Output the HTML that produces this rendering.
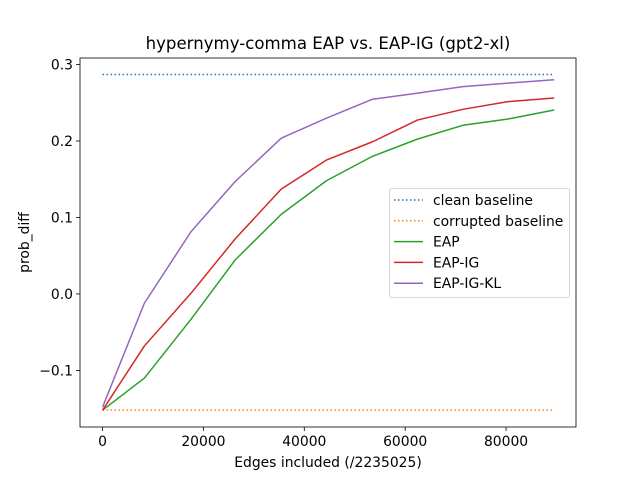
<!DOCTYPE html>
<html><head><meta charset="utf-8"><style>
body{margin:0;background:#fff}
svg{display:block;font-family:"DejaVu Sans","Liberation Sans",sans-serif}
</style></head><body>
<svg id="chart" width="640" height="480">
<rect width="640" height="480" fill="#fff"/>
<g id="plot"></g>
</svg>
<script>
const xValues=[0,8300,17550,26300,35420,44380,53530,62490,71440,80400,89550];
const eap=[-0.152,-0.110,-0.033,0.0445,0.104,0.148,0.180,0.2026,0.2205,0.2288,0.2405];
const eapIg=[-0.152,-0.068,0.001,0.072,0.137,0.175,0.199,0.2275,0.2414,0.2514,0.2562];
const eapIgKl=[-0.148,-0.012,0.0815,0.147,0.2036,0.2298,0.2546,0.2625,0.2711,0.2756,0.280];
const cleanBaseline=0.287;
const corruptedBaseline=-0.152;
const xTicks=[0,20000,40000,60000,80000];
const yTicks=[-0.1,0.0,0.1,0.2,0.3];
const yTickLabels=["\u22120.1","0.0","0.1","0.2","0.3"];

const L=80,R=576,T=58,B=427;
const xMin=-4470,xMax=93870,yMin=-0.174,yMax=0.3085;
const X=v=>L+(v-xMin)/(xMax-xMin)*(R-L);
const Y=v=>B-(v-yMin)/(yMax-yMin)*(B-T);
const NS="http://www.w3.org/2000/svg";
const g=document.getElementById('plot');
function mk(tag,attrs,parent){const e=document.createElementNS(NS,tag);for(const k in attrs)e.setAttribute(k,attrs[k]);(parent||g).appendChild(e);return e;}
function txt(s,attrs){const e=mk('text',attrs);e.textContent=s;return e;}

let t=txt("hypernymy-comma EAP vs. EAP-IG (gpt2-xl)",{x:(L+R)/2,y:49,'text-anchor':'middle','font-size':16.6,fill:'#000'});



xTicks.forEach(v=>{
  const l=mk('line',{x1:X(v),x2:X(v),y1:B,y2:B+4,stroke:'#000','stroke-width':0.8});
  
  
  const s=txt(String(v),{x:X(v),y:B+19,'text-anchor':'middle','font-size':13.9});
  
  
});
yTicks.forEach((v,i)=>{
  const l=mk('line',{x1:L-4,x2:L,y1:Y(v),y2:Y(v),stroke:'#000','stroke-width':0.8});
  
  
  const s=txt(yTickLabels[i],{x:L-7,y:Y(v)+5,'text-anchor':'end','font-size':13.9});
  
  
});
t=txt("Edges included (/2235025)",{x:(L+R)/2,y:467,'text-anchor':'middle','font-size':13.9});


t=txt("prob_diff",{x:0,y:0,'text-anchor':'middle','font-size':13.9,transform:`translate(29,${(T+B)/2}) rotate(-90)`});



function hline(v,color,name){
  const l=mk('line',{x1:X(xValues[0]),x2:X(xValues[xValues.length-1]),y1:Y(v),y2:Y(v),stroke:color,'stroke-width':1.5,'stroke-dasharray':'1.5,2.5'});
  
  
}
hline(cleanBaseline,'#1f77b4','clean-baseline-line');
hline(corruptedBaseline,'#ff7f0e','corrupted-baseline-line');
function series(vals,color,name){
  const p=mk('polyline',{points:vals.map((v,i)=>X(xValues[i])+','+Y(v)).join(' '),fill:'none',stroke:color,'stroke-width':1.5,'stroke-linejoin':'round'});
  
  
}
series(eap,'#2ca02c','eap-line');
series(eapIg,'#d62728','eap-ig-line');
series(eapIgKl,'#9467bd','eap-ig-kl-line');

const frame=mk('rect',{x:L,y:T,width:R-L,height:B-T,fill:'none',stroke:'#000','stroke-width':0.8});



const lg=mk('g',{});


mk('rect',{x:389.5,y:188.5,width:180,height:109,rx:2,fill:'#fff','fill-opacity':0.8,stroke:'#ccc','stroke-width':0.8},lg);
const entries=[["clean baseline","#1f77b4",true],["corrupted baseline","#ff7f0e",true],["EAP","#2ca02c",false],["EAP-IG","#d62728",false],["EAP-IG-KL","#9467bd",false]];
entries.forEach((e,i)=>{
  const y=200+i*20.8;
  const eg=mk('g',{},lg);
  
  
  const a={x1:394,x2:423,y1:y,y2:y,stroke:e[1],'stroke-width':1.5};
  if(e[2])a['stroke-dasharray']='1.5,2.5';
  mk('line',a,eg);
  const s=mk('text',{x:433,y:y+5,'font-size':13.9},eg);
  s.textContent=e[0];
});
</script>
</body></html>
